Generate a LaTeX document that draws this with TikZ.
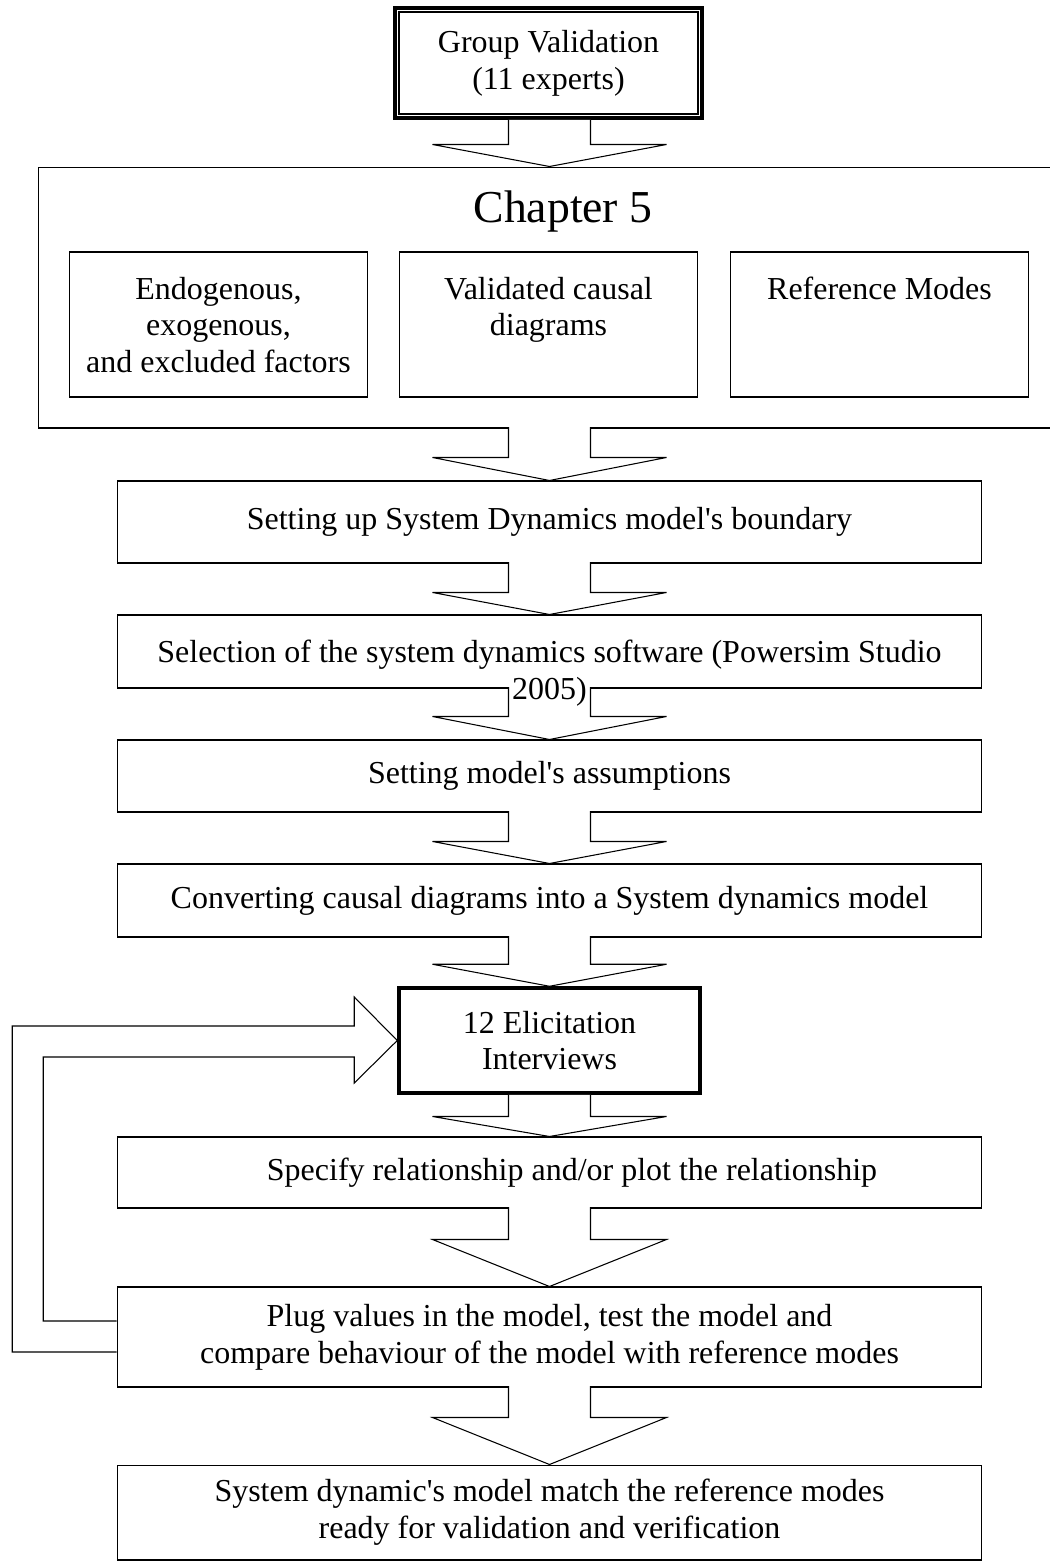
\documentclass[tikz,border=0pt]{standalone}
\usepackage{fontspec}
\setmainfont{Liberation Serif}
\usetikzlibrary{calc,positioning}

% block arrow from the bottom of #2 down to the top of #3, head depth #4
\newcommand{\flowto}[4][1.5]{%
  \draw[flow] ($(#3.north |- #2.south)+(-41,-#1)$) -- ($(#3.north)+(-41,-#4)$)
    -- ($(#3.north)+(-117,-#4)$) -- (#3.north) -- ($(#3.north)+(117,-#4)$)
    -- ($(#3.north)+(41,-#4)$) -- ($(#3.north |- #2.south)+(41,-#1)$);}

\begin{document}
\begin{tikzpicture}[x=0.02cm, y=-0.02cm, font=\fontsize{18.2}{21}\selectfont]
  \tikzset{stepbox/.style={draw, line width=0.6pt, inner sep=0pt, align=center,
      minimum width=17.3cm},
    subbox/.style={draw, line width=0.6pt, minimum width=5.96cm, minimum height=2.9cm},
    subtext/.style={inner sep=0pt, align=center},
    flow/.style={draw, fill=white, line width=0.6pt}}
  \useasboundingbox (0,0) rectangle (1049,1562);

  \node[draw, line width=2.2pt, minimum width=6.14cm, minimum height=2.2cm, align=center]
    (group) at (548.5,63) {Group Validation\\(11 experts)};
  \draw[line width=0.8pt] ($(group.north west)+(6,6)$) rectangle ($(group.south east)+(-6,-6)$);

  % chapter 5 frame runs off the right edge
  \node[draw, line width=0.6pt, minimum width=20.46cm, minimum height=5.22cm] (ch5) at (549.5,297.5) {};
  \node[font=\fontsize{26}{30}\selectfont, inner sep=0pt] (ch5title) at (563,212) {Chapter 5};
  \node[subbox] (factors) at (218.5,324.5) {};
  \node[subbox] (causal) at (548.5,324.5) {};
  \node[subbox] (refmodes) at (879.5,324.5) {};
  \node[subtext, below=0.5cm of factors.north] (factorstext) {Endogenous,\\exogenous,\\and excluded factors};
  \node[subtext, below=0.5cm of causal.north] (causaltext) {Validated causal\\diagrams};
  \node[subtext, below=0.5cm of refmodes.north] (refmodestext) {Reference Modes};

  \node[stepbox, minimum height=1.64cm] (boundary) at (549.5,522) {Setting up System Dynamics model\textquotesingle s boundary};
  \node[stepbox, minimum height=1.46cm] (software) at (549.5,651.5) {};
  \node[stepbox, minimum height=1.44cm] (assume) at (549.5,776) {Setting model\textquotesingle s assumptions};
  \node[stepbox, minimum height=1.46cm] (convert) at (549.5,900.5) {Converting causal diagrams into a System dynamics model};
  \node[draw, line width=2pt, minimum width=6.02cm, minimum height=2.1cm, align=center]
    (interviews) at (549.5,1040.5) {12 Elicitation\\Interviews};
  \node[stepbox, minimum height=1.42cm] (relation) at (549.5,1172.5) {\hspace*{0.9cm}Specify relationship and/or plot the relationship};
  \node[stepbox, minimum height=2cm] (plug) at (549.5,1337) {Plug values in the model, test the model and\\compare behaviour of the model with reference modes};
  \node[stepbox, minimum height=1.9cm] (ready) at (549.5,1512.5) {System dynamic\textquotesingle s model match the reference modes\\ready for validation and verification};

  \flowto[0]{group}{ch5}{22}
  \flowto{ch5}{boundary}{23}
  \flowto{boundary}{software}{22}
  \flowto{software}{assume}{23}
  \flowto{assume}{convert}{22}
  \flowto{convert}{interviews}{22}
  \flowto[0]{interviews}{relation}{20}
  \flowto{relation}{plug}{47}
  \flowto{plug}{ready}{47}

  % loop back from testing to the interviews
  \draw[flow, fill=none] ($(plug.west)+(0,15)$) -| ($(interviews.west)+(-385,-14.5)$)
    -- ($(interviews.west)+(-43,-14.5)$) -- ($(interviews.west)+(-43,-43.5)$) -- (interviews.west)
    -- ($(interviews.west)+(-43,42.5)$) -- ($(interviews.west)+(-43,16.5)$)
    -- ($(interviews.west)+(-354,16.5)$) |- ($(plug.west)+(0,-16)$);

  % this text spills over the box and the arrow below it
  \node[subtext, below=0.5cm of software.north] (softwaretext) {Selection of the system dynamics software (Powersim Studio\\2005)};
\end{tikzpicture}
\end{document}
